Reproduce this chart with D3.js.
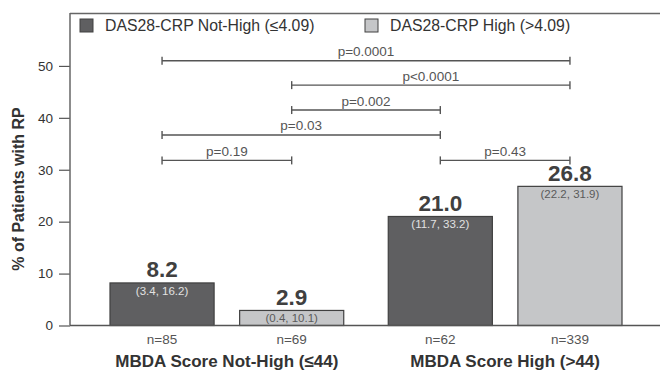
<!DOCTYPE html>
<html>
<head>
<meta charset="utf-8">
<script src="https://cdn.jsdelivr.net/npm/d3@7"></script>
<style>
  body { margin: 0; background: #fff; }
  svg { font-family: "Liberation Sans", Arial, sans-serif; }
</style>
</head>
<body>
<svg id="chart" width="660" height="371"></svg>
<script>
// data
const groups = ["MBDA Score Not-High (\u226444)", "MBDA Score High (>44)"];
const seriesNames = ["DAS28-CRP Not-High (\u22644.09)", "DAS28-CRP High (>4.09)"];
const barValues = [8.2, 2.9, 21.0, 26.8];
const barCI = ["(3.4, 16.2)", "(0.4, 10.1)", "(11.7, 33.2)", "(22.2, 31.9)"];
const barN = ["n=85", "n=69", "n=62", "n=339"];
const barGroup = [0, 0, 1, 1];
const barSeries = [0, 1, 0, 1];
const yTicks = [0, 10, 20, 30, 40, 50];
// significance brackets: from bar index, to bar index, height (%), label
const brFrom = [0, 1, 1, 0, 0, 2];
const brTo = [3, 3, 2, 2, 1, 3];
const brLevel = [51.0, 46.3, 41.5, 36.7, 31.8, 31.8];
const brLabel = ["p=0.0001", "p<0.0001", "p=0.002", "p=0.03", "p=0.19", "p=0.43"];

const svg = d3.select("#chart");
const fills = ["#5f5f61", "#c5c6c8"];
const ciColors = ["#e2e2e2", "#5a5a5a"];
const ink = "#404040";

const y = d3.scaleLinear().domain([0, 60]).range([325.5, 14]);

// two groups, each with two bars
const gx = d3.scaleBand().domain(groups).range([110, 622]).paddingInner(0.16).paddingOuter(0);
const bx = d3.scaleBand().domain([0, 1]).range([0, gx.bandwidth()]).paddingInner(0.197);

const barX = i => gx(groups[barGroup[i]]) + bx(barSeries[i]);
const barC = i => barX(i) + bx.bandwidth() / 2;

// frame: top line and left axis
svg.append("line").attr("x1", 70).attr("x2", 660).attr("y1", 13.5).attr("y2", 13.5)
  .attr("stroke", "#666").attr("stroke-width", 1.5);

const yAxis = svg.append("g").attr("transform", "translate(70,0)")
  .call(d3.axisLeft(y).tickValues(yTicks).tickSize(11).tickPadding(6));
yAxis.select(".domain").remove();
yAxis.selectAll(".tick line").attr("stroke", "#555").attr("stroke-width", 1.2);
yAxis.selectAll(".tick text").attr("fill", "#333").style("font-size", "13.5px")
  .style("font-family", "'Liberation Sans', Arial, sans-serif");

svg.append("line").attr("x1", 70).attr("x2", 70).attr("y1", 13).attr("y2", y(0))
  .attr("stroke", "#666").attr("stroke-width", 1.5);

svg.append("text")
  .attr("transform", `translate(24,189) rotate(-90)`)
  .attr("text-anchor", "middle")
  .attr("font-weight", "bold").attr("font-size", 16).attr("fill", "#333")
  .text("% of Patients with RP");

// bars
const idx = d3.range(barValues.length);
svg.selectAll("rect.bar").data(idx).join("rect")
  .attr("class", "bar")
  .attr("x", i => barX(i))
  .attr("y", i => y(barValues[i]))
  .attr("width", bx.bandwidth())
  .attr("height", i => y(0) - y(barValues[i]))
  .attr("fill", i => fills[barSeries[i]])
  .attr("stroke", ink).attr("stroke-width", 1.2);

// baseline
svg.append("line").attr("x1", 70).attr("x2", 660).attr("y1", y(0)).attr("y2", y(0))
  .attr("stroke", "#555").attr("stroke-width", 1.5);

svg.selectAll("text.val").data(idx).join("text")
  .attr("class", "val")
  .attr("x", i => barC(i)).attr("y", i => y(barValues[i]) - 5.5)
  .attr("text-anchor", "middle").attr("font-weight", "bold").attr("font-size", 22.5)
  .attr("fill", ink)
  .text(i => barValues[i].toFixed(1));

svg.selectAll("text.ci").data(idx).join("text")
  .attr("class", "ci")
  .attr("x", i => barC(i)).attr("y", i => y(barValues[i]) + 12)
  .attr("text-anchor", "middle").attr("font-size", 11.5)
  .attr("fill", i => ciColors[barSeries[i]])
  .text(i => barCI[i]);

svg.selectAll("text.n").data(idx).join("text")
  .attr("class", "n")
  .attr("x", i => barC(i)).attr("y", 344)
  .attr("text-anchor", "middle").attr("font-size", 13.5).attr("fill", "#555")
  .text(i => barN[i]);

svg.selectAll("text.grp").data(groups).join("text")
  .attr("class", "grp")
  .attr("x", d => gx(d) + gx.bandwidth() / 2).attr("y", 367)
  .attr("text-anchor", "middle").attr("font-weight", "bold").attr("font-size", 17)
  .attr("fill", "#333")
  .text(d => d);

// significance brackets
const br = svg.append("g").attr("stroke", "#555").attr("stroke-width", 1.4);
brLevel.forEach((lv, k) => {
  const x1 = barC(brFrom[k]), x2 = barC(brTo[k]), yy = y(lv);
  br.append("line").attr("x1", x1).attr("x2", x2).attr("y1", yy).attr("y2", yy);
  br.append("line").attr("x1", x1).attr("x2", x1).attr("y1", yy - 4).attr("y2", yy + 4);
  br.append("line").attr("x1", x2).attr("x2", x2).attr("y1", yy - 4).attr("y2", yy + 4);
  svg.append("text")
    .attr("x", (x1 + x2) / 2).attr("y", yy - 4.5)
    .attr("text-anchor", "middle").attr("font-size", 13.5).attr("fill", "#555")
    .text(brLabel[k]);
});

// legend
const legX = [80, 365];
seriesNames.forEach((name, s) => {
  svg.append("rect").attr("x", legX[s]).attr("y", 19).attr("width", 13).attr("height", 13)
    .attr("fill", fills[s]).attr("stroke", ink).attr("stroke-width", 1);
  svg.append("text").attr("x", legX[s] + 25).attr("y", 31)
    .attr("font-size", 15.8).attr("fill", "#333").text(name);
});
</script>
</body>
</html>
